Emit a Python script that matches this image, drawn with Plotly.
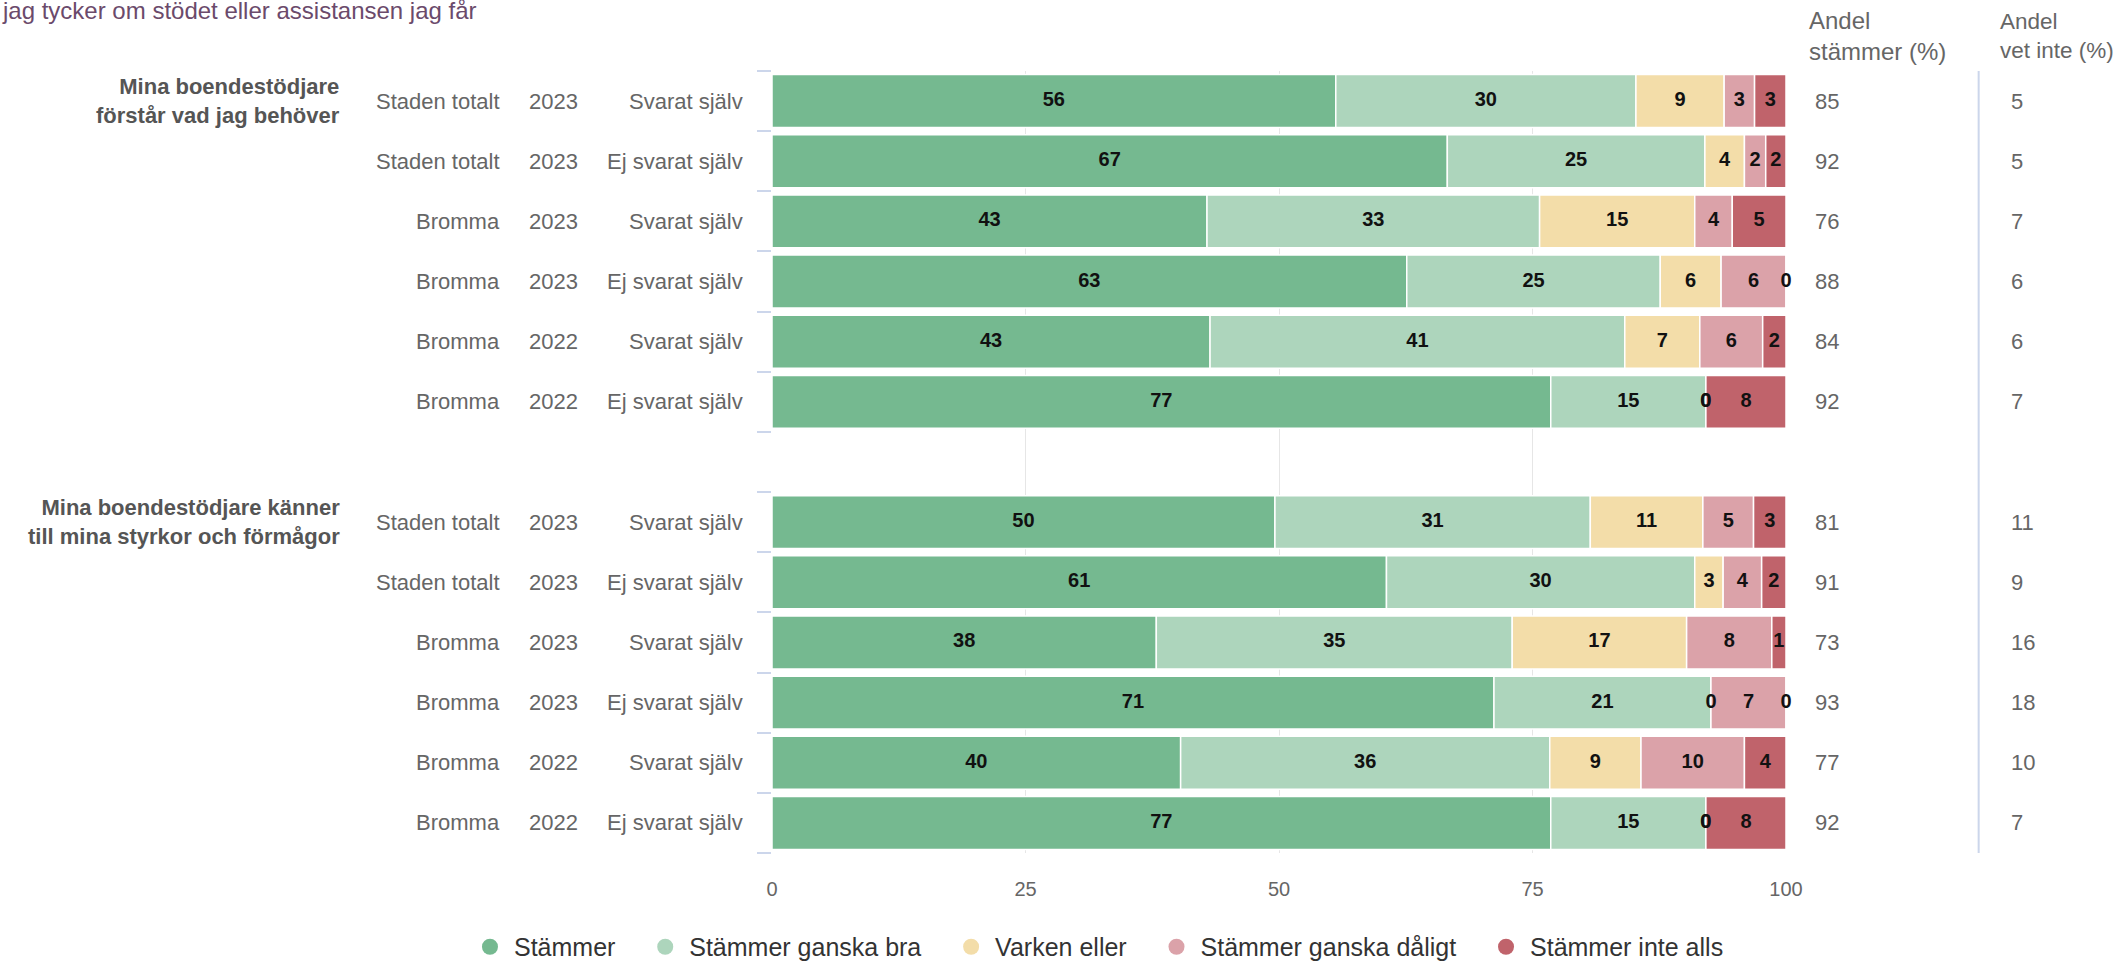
import plotly.graph_objects as go

categories = ["Stämmer", "Stämmer ganska bra", "Varken eller", "Stämmer ganska dåligt", "Stämmer inte alls"]
colors = ["#75b990", "#add5bc", "#f3dda9", "#dba2a9", "#c0636b"]

questions = ["Mina boendestödjare<br>förstår vad jag behöver",
             "Mina boendestödjare känner<br>till mina styrkor och förmågor"]
areas = ["Staden totalt", "Staden totalt", "Bromma", "Bromma", "Bromma", "Bromma"]
years = ["2023", "2023", "2023", "2023", "2022", "2022"]
respondents = ["Svarat själv", "Ej svarat själv", "Svarat själv", "Ej svarat själv", "Svarat själv", "Ej svarat själv"]

# andel (%) per rad, fraga 1 (6 rader) foljt av fraga 2 (6 rader)
stammer = [55.6, 66.6, 42.9, 62.6, 43.2, 76.8, 49.6, 60.6, 37.9, 71.2, 40.3, 76.8]
ganska_bra = [29.6, 25.4, 32.8, 25.0, 40.9, 15.3, 31.1, 30.4, 35.1, 21.4, 36.4, 15.3]
varken = [8.7, 3.9, 15.3, 6.0, 7.4, 0.0, 11.1, 2.8, 17.2, 0.0, 9.0, 0.0]
ganska_daligt = [3.0, 2.1, 3.7, 6.4, 6.2, 0.0, 5.0, 3.8, 8.4, 7.4, 10.2, 0.0]
inte_alls = [3.1, 2.0, 5.3, 0.0, 2.3, 7.9, 3.2, 2.4, 1.4, 0.0, 4.1, 7.9]

andel_stammer = [85, 92, 76, 88, 84, 92, 81, 91, 73, 93, 77, 92]
andel_vet_inte = [5, 5, 7, 6, 6, 7, 11, 9, 16, 18, 10, 7]

x_ticks = [0, 25, 50, 75, 100]

FONT = "Liberation Sans, Arial, sans-serif"
series = [stammer, ganska_bra, varken, ganska_daligt, inte_alls]

n_per_q = len(areas)
rows = [q * (n_per_q + 1) + i for q in range(len(questions)) for i in range(n_per_q)]

fig = go.Figure()

base = [0.0] * len(rows)
lab_x, lab_y, lab_t = [], [], []
for name, vals, col in zip(categories, series, colors):
    fig.add_trace(go.Bar(
        y=rows, x=vals, base=base, orientation="h", name=name,
        marker=dict(color=col, line=dict(color="white", width=1.5)),
        width=0.88, showlegend=False, hoverinfo="x+name"))
    for r, b, v in zip(rows, base, vals):
        lab_x.append(b + v / 2)
        lab_y.append(r)
        lab_t.append(f"{v:.0f}")
    base = [b + v for b, v in zip(base, vals)]

fig.add_trace(go.Scatter(
    x=lab_x, y=lab_y, text=lab_t, mode="text", showlegend=False, hoverinfo="skip",
    textfont=dict(family=FONT, size=20, color="#111111", weight="bold"), cliponaxis=False))

# legend entries as circles
pad = "\u00a0" * 3
for name, col in zip(categories, colors):
    fig.add_trace(go.Scatter(x=[None], y=[None], mode="markers", name=name + pad,
                             marker=dict(color=col, size=22, symbol="circle")))

ann = []
# left labels
for q, text in enumerate(questions):
    ann.append(dict(x=-0.424, xref="paper", y=rows[q * n_per_q], yref="y", text=text,
                    xanchor="right", yanchor="middle", align="right", showarrow=False,
                    font=dict(family=FONT, size=22, color="#555555", weight="bold")))
for k, r in enumerate(rows):
    i = k % n_per_q
    for xp, txt in [(-0.266, areas[i]), (-0.189, years[i]), (-0.027, respondents[i])]:
        ann.append(dict(x=xp, xref="paper", y=r, yref="y", text=txt, xanchor="right",
                        yanchor="middle", showarrow=False,
                        font=dict(family=FONT, size=22, color="#666666")))
    ann.append(dict(x=1.0266, xref="paper", y=r, yref="y", text=str(andel_stammer[k]),
                    xanchor="left", yanchor="middle", showarrow=False,
                    font=dict(family=FONT, size=22, color="#666666")))
    ann.append(dict(x=1.220, xref="paper", y=r, yref="y", text=str(andel_vet_inte[k]),
                    xanchor="left", yanchor="middle", showarrow=False,
                    font=dict(family=FONT, size=22, color="#666666")))

# column headers
ann.append(dict(x=1.021, xref="paper", y=1.045, yref="paper", text="Andel<br>stämmer (%)",
                xanchor="left", yanchor="middle", align="left", showarrow=False,
                font=dict(family=FONT, size=24, color="#666666")))
ann.append(dict(x=1.209, xref="paper", y=1.045, yref="paper", text="Andel<br>vet inte (%)",
                xanchor="left", yanchor="middle", align="left", showarrow=False,
                font=dict(family=FONT, size=22.5, color="#666666")))

# title (first line falls outside the picture)
ann.append(dict(x=-0.7613, xref="paper", y=1.0775, yref="paper",
                text="jag tycker om stödet eller assistansen jag får",
                xanchor="left", yanchor="middle", showarrow=False,
                font=dict(family=FONT, size=24, color="#6b4a6b")))

fig.update_layout(
    width=2121, height=963,
    margin=dict(l=772, r=335, t=71, b=110, autoexpand=False),
    paper_bgcolor="white", plot_bgcolor="white",
    barmode="overlay",
    annotations=ann,
    shapes=[dict(type="line", xref="paper", yref="paper", x0=1.190, x1=1.190, y0=0, y1=1,
                 line=dict(color="#ccd6eb", width=2))],
    legend=dict(orientation="h", x=-0.3018, xanchor="left", y=-0.1202, yanchor="middle",
                font=dict(family=FONT, size=25, color="#333333"), itemwidth=38),
    font=dict(family=FONT),
)
fig.update_xaxes(range=[0, 100], tickvals=x_ticks, showgrid=True, gridcolor="#e6e6e6",
                 gridwidth=1, zeroline=False, showline=False, ticks="",
                 tickfont=dict(family=FONT, size=20, color="#666666"), ticklabelstandoff=22,
                 fixedrange=True)
fig.update_yaxes(range=[len(rows) + 0.5, -0.5], tickvals=[r - 0.5 for r in range(len(rows) + 2)],
                 showticklabels=False, ticks="outside", ticklen=14, tickcolor="#ccd6eb",
                 tickwidth=2, showgrid=False, zeroline=False, showline=False, fixedrange=True)

fig.write_html("out.html", config={"displayModeBar": False},
               post_script="document.body.style.margin = '0';")
